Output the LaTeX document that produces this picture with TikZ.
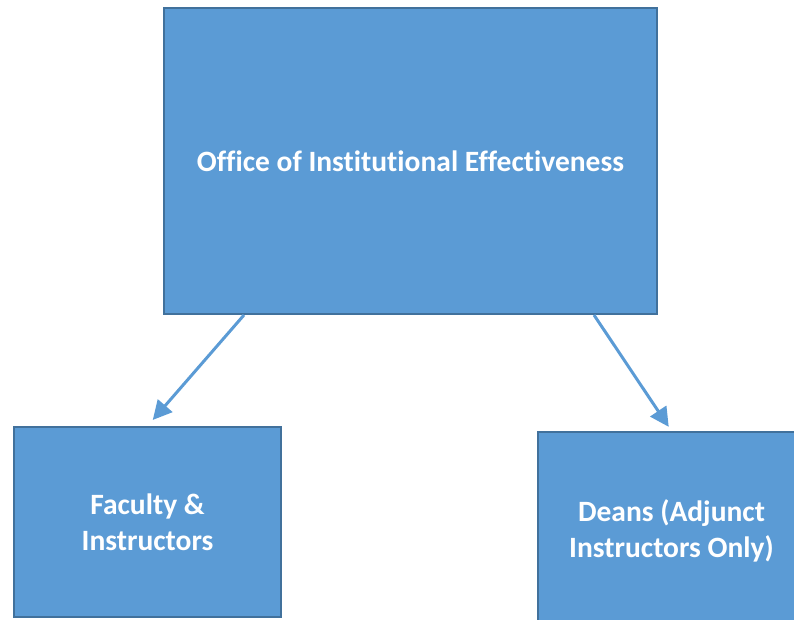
\documentclass[tikz,border=0pt]{standalone}
\usepackage{fontspec}
\setmainfont{Carlito}[Ligatures=CommonOff]
\usetikzlibrary{arrows.meta,positioning}
\definecolor{boxfill}{HTML}{5B9BD5}
\definecolor{boxline}{HTML}{41719C}
\tikzset{
    orgbox/.style={draw=boxline, fill=boxfill, line width=2pt, text=white,
        font=\fontsize{29.5}{36}\selectfont\bfseries, align=center,
        inner sep=0pt, minimum width=#1},
    link/.style={draw=boxfill, line width=3pt,
        -{Triangle[length=19pt,width=19pt]}}
}

\begin{document}
\begin{tikzpicture}[x=1pt, y=-1pt]
    \useasboundingbox (0,0) rectangle (794,620);
    \node[orgbox=493pt, minimum height=306pt] (oie) at (410.5,161) {Office of Institutional Effectiveness};
    \node[orgbox=267pt, minimum height=190pt] (fac) at (147.5,522) {Faculty \&\\Instructors};
    \node[orgbox=267pt, minimum height=198pt] (deans) at (671.5,531) {Deans (Adjunct\\Instructors Only)};
    \draw[link, shorten >=8pt] ([xshift=81pt]oie.south west) -- (fac.north);
    \draw[link, shorten >=5pt] ([xshift=-64pt]oie.south east) -- (deans.north);
\end{tikzpicture}
\end{document}
